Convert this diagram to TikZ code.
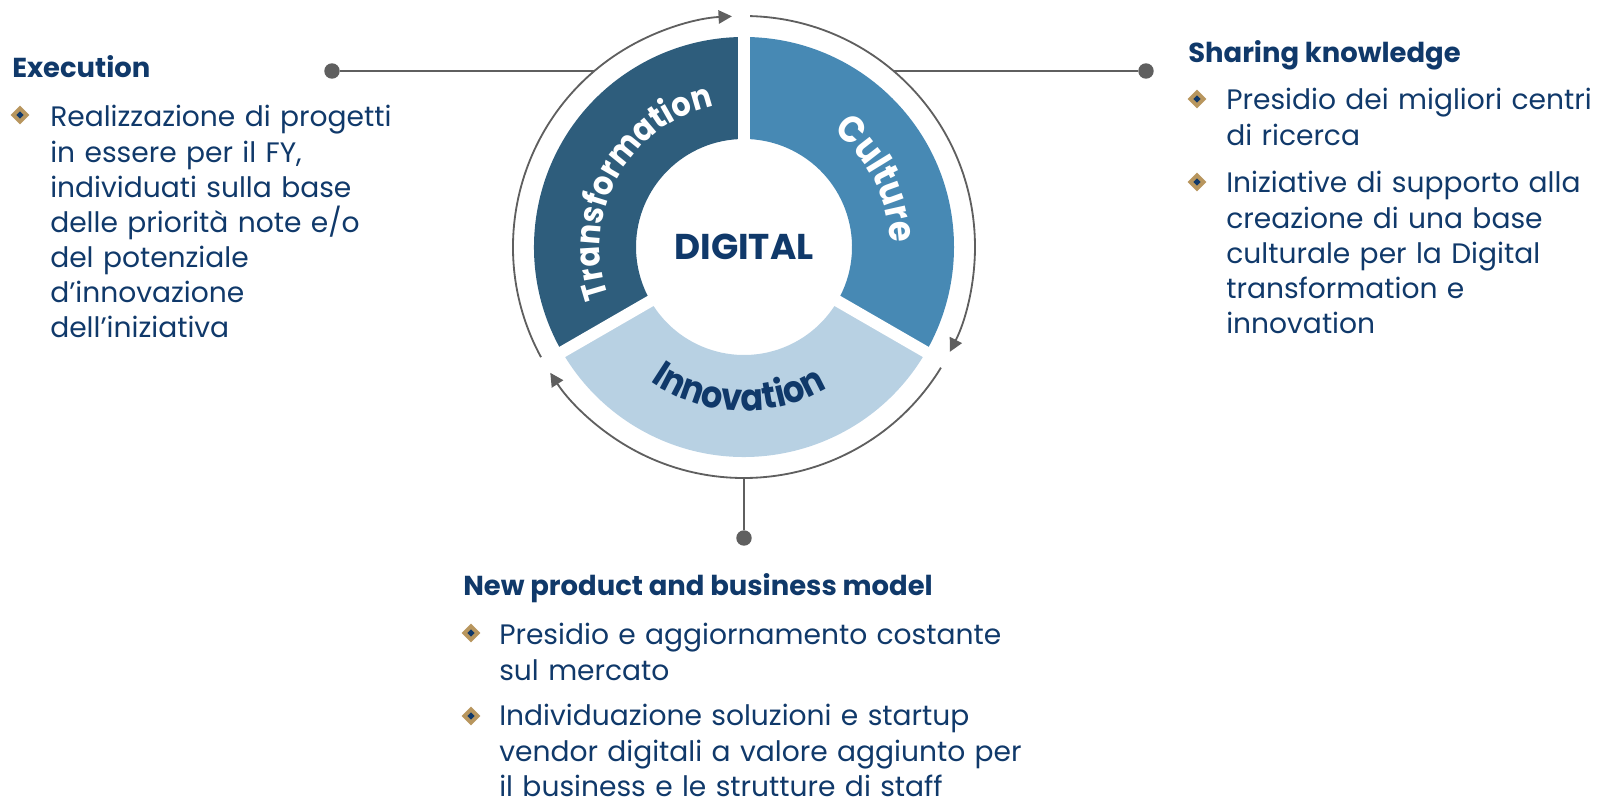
\documentclass[tikz,border=0pt]{standalone}
\usepackage{fontspec}
\setmainfont{Poppins}
\newfontfamily\ringfam[FakeStretch=0.9]{Poppins}
\usetikzlibrary{arrows.meta,shapes.geometric,decorations.text}

\definecolor{navy}{HTML}{10396A}
\definecolor{trblue}{HTML}{2E5D7C}
\definecolor{cublue}{HTML}{4789B4}
\definecolor{inblue}{HTML}{B8D1E3}
\definecolor{gold}{HTML}{B8965E}
\definecolor{linegray}{HTML}{5F5F5F}

\newcommand\ringfont{\ringfam\fontsize{26.5}{26.5}\selectfont\bfseries}
\newcommand\ringfontsm{\ringfam\fontsize{24}{24}\selectfont\bfseries}

\tikzset{
  headtext/.style={anchor=base west, inner sep=0pt, text=navy, font=\fontsize{19.5}{22}\selectfont\bfseries},
  itemtext/.style={anchor=base west, inner sep=0pt, text=navy, text width=15cm, align=left,
    font=\fontsize{20}{24.9}\selectfont},
  bul/.style={diamond, fill=gold, minimum size=13.5pt, inner sep=0pt,
    path picture={\fill[navy] ([yshift=2.6pt]path picture bounding box.center)
      -- ([xshift=2.6pt]path picture bounding box.center)
      -- ([yshift=-2.6pt]path picture bounding box.center)
      -- ([xshift=-2.6pt]path picture bounding box.center) -- cycle;}},
  cycarrow/.style={linegray, line width=1.3pt, -{Triangle[length=9.5pt,width=9.5pt]}},
  leader/.style={linegray, line width=1.3pt},
  enddot/.style={circle, fill=linegray, minimum size=11pt, inner sep=0pt},
}

\begin{document}
\begin{tikzpicture}[x=0.025cm, y=0.025cm]
    \useasboundingbox (0,0) rectangle (1598,800);
    % Radii of the ring
    \def\rin{108}
    \def\rout{210}
    \def\rarr{231}
    \coordinate (c) at (744,553);

    % Ring segments
    \foreach \a/\b/\col in {90/210/trblue, -30/90/cublue, 210/330/inblue}{
      \fill[\col] ([shift={(\a:\rin)}]c) arc[start angle=\a, end angle=\b, radius=\rin]
        -- ([shift={(\b:\rout)}]c) arc[start angle=\b, end angle=\a, radius=\rout] -- cycle;
    }
    % White gaps
    \foreach \a in {90,210,330}
      \draw[white, line width=8.3pt] (c) -- ([shift={(\a:216)}]c);

    % Cycle arrows
    \foreach \s in {88.5,-31.5,208.5}
      \draw[cycarrow] ([shift={(\s:\rarr)}]c) arc[start angle=\s, delta angle=-115.5, radius=\rarr];

    % Centre and ring labels
    \node[font=\fontsize{25.5}{25.5}\selectfont\bfseries, text=navy] (digital) at (c) {DIGITAL};
    \path[decorate, decoration={text along path, text align=center, text color=white,
      text={|\ringfontsm|Transformation}}]
      ([shift={(216:144)}]c) arc[start angle=216, end angle=86, radius=144];
    \path[decorate, decoration={text along path, text align=center, text color=white,
      text={|\ringfont|Culture}}]
      ([shift={(72:146)}]c) arc[start angle=72, end angle=-18, radius=146];
    \path[decorate, decoration={text along path, text align=center, text color=navy,
      text={|\ringfont|Innovation}}]
      ([shift={(218:164)}]c) arc[start angle=218, end angle=318, radius=164];

    % Leaders
    \node[enddot] (exdot) at (332,729) {};
    \node[enddot] (skdot) at (1146,729) {};
    \node[enddot] (npdot) at (744,262) {};
    \coordinate (exhit) at ([shift={(130.4:\rarr)}]c);
    \coordinate (skhit) at ([shift={(49.6:\rarr)}]c);
    \coordinate (nphit) at ([shift={(270:\rarr)}]c);
    \draw[leader] (exdot) -- (exhit);
    \draw[leader] (skhit) -- (skdot);
    \draw[leader] (nphit) -- (npdot);

    % Execution
    \node[headtext] (exhead) at (12,722) {Execution};
    \node[bul] (exbul) at (20,685) {};
    \node[itemtext] (exitem) at (50,673) {Realizzazione di progetti\\in essere per il FY,\\individuati sulla base\\delle priorità note e/o\\del potenziale\\d’innovazione\\dell’iniziativa};

    % Sharing knowledge
    \node[headtext] (skhead) at (1188,737) {Sharing knowledge};
    \node[bul] (skbula) at (1197,701) {};
    \node[itemtext] (skitema) at (1226,690) {Presidio dei migliori centri\\di ricerca};
    \node[bul] (skbulb) at (1197,618) {};
    \node[itemtext] (skitemb) at (1226,607) {Iniziative di supporto alla\\creazione di una base\\culturale per la Digital\\transformation e\\innovation};

    % New product and business model
    \node[headtext] (nphead) at (463,204) {New product and business model};
    \node[bul] (npbula) at (471,167) {};
    \node[itemtext] (npitema) at (499,155) {Presidio e aggiornamento costante\\sul mercato};
    \node[bul] (npbulb) at (471,84) {};
    \node[itemtext] (npitemb) at (499,74) {Individuazione soluzioni e startup\\vendor digitali a valore aggiunto per\\il business e le strutture di staff};
\end{tikzpicture}
\end{document}
